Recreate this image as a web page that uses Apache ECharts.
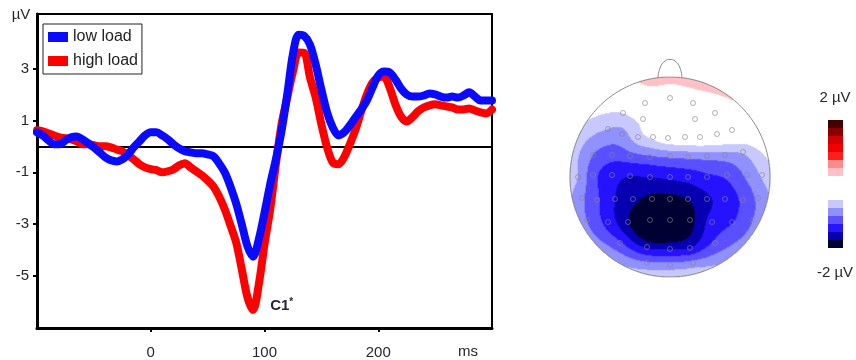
<!DOCTYPE html>
<html>
<head>
<meta charset="utf-8">
<script src="https://cdn.jsdelivr.net/npm/echarts@6/dist/echarts.min.js"></script>
<style>
html,body{margin:0;padding:0;background:#fff;}
#chart{width:856px;height:360px;}
</style>
</head>
<body>
<div id="chart"></div>
<script>
// ---- ERP waveforms (µV), one sample every 5 ms from -100 to 300 ms ----
const timesMs = [-100,-95,-90,-85,-80,-75,-70,-65,-60,-55,-50,-45,-40,-35,-30,-25,-20,-15,-10,-5,
  0,5,10,15,20,25,30,35,40,45,50,55,60,65,70,75,80,85,90,95,
  100,105,110,115,120,125,130,135,140,145,150,155,160,165,170,175,180,185,190,195,
  200,205,210,215,220,225,230,235,240,245,250,255,260,265,270,275,280,285,290,295,300];
const lowLoad = [0.54,0.42,0.23,0.08,0.08,0.23,0.35,0.38,0.27,0.12,
  -0.04,-0.23,-0.42,-0.54,-0.58,-0.5,-0.31,-0.04,0.19,0.42,
  0.54,0.54,0.42,0.27,0.08,-0.08,-0.19,-0.23,-0.27,-0.27,
  -0.31,-0.38,-0.65,-1.0,-1.54,-2.19,-3.0,-3.85,-4.25,-3.58,
  -2.56,-1.46,-0.5,0.6,2.0,3.56,4.3,4.25,3.92,3.15,
  2.19,1.31,0.73,0.42,0.54,0.81,1.12,1.42,1.77,2.27,
  2.73,2.88,2.85,2.58,2.23,2.0,1.92,1.92,1.96,2.04,
  2.0,1.92,1.88,1.92,1.88,1.96,2.08,1.92,1.77,1.77,
  1.77];
const highLoad = [0.62,0.58,0.5,0.42,0.35,0.31,0.27,0.19,0.08,0.08,
  0.04,0.0,0.0,-0.04,-0.12,-0.19,-0.35,-0.5,-0.69,-0.81,
  -0.88,-0.92,-1.0,-0.96,-0.88,-0.73,-0.65,-0.81,-0.96,-1.12,
  -1.31,-1.54,-1.92,-2.42,-3.04,-3.69,-4.73,-5.81,-6.3,-5.31,
  -3.77,-2.42,-0.69,0.85,1.88,2.88,3.62,3.6,2.65,1.88,
  0.85,-0.04,-0.62,-0.69,-0.42,0.08,0.65,1.35,2.0,2.46,
  2.65,2.69,2.27,1.62,1.15,0.96,1.12,1.35,1.5,1.58,
  1.62,1.58,1.54,1.5,1.42,1.42,1.46,1.38,1.31,1.27,
  1.42];
const xTickValues = [0, 100, 200];
const yTickValues = [-5, -3, -1, 1, 3];

// ---- Scalp map: electrode sites (head radius 1, nose up) and amplitudes (µV) ----
const elecX = [-0.25,0,0.23,
  -0.47,-0.27,0.25,0.45,
  -0.62,-0.48,-0.32,-0.17,-0.02,0.15,0.30,0.47,0.62,
  -0.77,-0.58,-0.40,-0.20,0,0.18,0.37,0.55,0.73,
  -0.92,-0.77,-0.58,-0.40,-0.20,0,0.18,0.37,0.57,0.77,0.92,
  -0.88,-0.73,-0.55,-0.37,-0.18,0,0.18,0.37,0.55,0.73,0.88,
  -0.83,-0.62,-0.42,-0.20,0,0.20,0.42,0.62,0.83,
  -0.50,-0.23,0,0.20,0.45,
  -0.23,0,0.23];
const elecY = [0.74,0.79,0.74,
  0.64,0.58,0.58,0.64,
  0.48,0.43,0.40,0.40,0.39,0.40,0.40,0.43,0.47,
  0.22,0.22,0.21,0.20,0.21,0.20,0.21,0.22,0.25,
  0,0.02,0.02,0.01,0,0,0,0,0.02,0.02,0.02,
  -0.21,-0.23,-0.22,-0.22,-0.22,-0.22,-0.22,-0.22,-0.22,-0.23,-0.21,
  -0.43,-0.45,-0.45,-0.43,-0.43,-0.43,-0.45,-0.45,-0.43,
  -0.66,-0.70,-0.72,-0.71,-0.66,
  -0.86,-0.88,-0.86];
const elecV = [0.02,0.08,0.12,
  -0.5,-0.4,0.0,0.05,
  -0.75,-0.85,-0.6,-0.45,-0.3,-0.25,-0.2,-0.15,-0.1,
  -1.0,-1.15,-1.1,-1.05,-0.95,-0.95,-0.9,-0.85,-0.72,
  -0.75,-1.15,-1.4,-1.5,-1.5,-1.45,-1.4,-1.3,-1.2,-0.95,-0.72,
  -0.95,-1.2,-1.5,-1.65,-1.85,-1.85,-1.75,-1.55,-1.4,-1.2,-0.95,
  -1.0,-1.35,-1.72,-2.2,-2.2,-1.85,-1.4,-1.27,-1.0,
  -1.2,-1.55,-1.5,-1.5,-1.2,
  -0.95,-0.9,-0.9];

// colour scale: 16 steps of 0.25 µV from +2 (top) to -2 (bottom)
const levelTops = [Infinity,1.75,1.5,1.25,1.0,0.75,0.5,0.25,0,-0.25,-0.5,-0.75,-1.0,-1.25,-1.5,-1.75];
const levelColors = ['#420000','#8a0000','#d00000','#f20000','#ff1e1e','#ff8a8a','#ffc0c6',
  '#ffffff','#ffffff','#ffffff',
  '#c8c8ff','#9090ff','#5e50ff','#2a14ff','#0800b0','#000035'];

const FONT = '"Liberation Sans", Arial, sans-serif';
const TXT = '#262630';

// ---- biharmonic spline (Green's function r^2 (ln r - 1)) through the electrode values ----
function green(r) { return r > 1e-12 ? r * r * (Math.log(r) - 1) : 0; }
function solve(A, b) {
  const n = b.length;
  for (let c = 0; c < n; c++) {
    let p = c;
    for (let r = c + 1; r < n; r++) if (Math.abs(A[r][c]) > Math.abs(A[p][c])) p = r;
    [A[c], A[p]] = [A[p], A[c]]; [b[c], b[p]] = [b[p], b[c]];
    for (let r = c + 1; r < n; r++) {
      const f = A[r][c] / A[c][c];
      for (let k = c; k < n; k++) A[r][k] -= f * A[c][k];
      b[r] -= f * b[c];
    }
  }
  const x = new Array(n).fill(0);
  for (let r = n - 1; r >= 0; r--) {
    let s = b[r];
    for (let k = r + 1; k < n; k++) s -= A[r][k] * x[k];
    x[r] = s / A[r][r];
  }
  return x;
}
const nE = elecX.length;
const G = [];
for (let i = 0; i < nE; i++) {
  G.push([]);
  for (let j = 0; j < nE; j++) G[i].push(green(Math.hypot(elecX[i] - elecX[j], elecY[i] - elecY[j])));
}
const weights = solve(G, elecV.slice());

const N = 200;
const cats = Array.from({length: N}, (_, i) => i);
const cells = [];
for (let i = 0; i < N; i++) {
  const hx = -1 + (i + 0.5) * 2 / N;
  for (let j = 0; j < N; j++) {
    const hy = -1 + (j + 0.5) * 2 / N;
    if (hx * hx + hy * hy > 1) continue;
    let v = 0;
    for (let k = 0; k < nE; k++) v += weights[k] * green(Math.hypot(hx - elecX[k], hy - elecY[k]));
    cells.push([i, j, +v.toFixed(3)]);
  }
}

const pieces = levelColors.map((c, k) => {
  const p = {color: c};
  if (levelTops[k] !== Infinity) p.lt = levelTops[k];
  if (k < levelTops.length - 1) p.gte = levelTops[k + 1];
  return p;
});

// head outline and nose (head radius = 1)
const headOutline = [];
for (let a = 0; a <= 360; a += 2) {
  const t = a * Math.PI / 180;
  headOutline.push([Math.cos(t), Math.sin(t)]);
}
const noseOutline = [[-0.12,0.99],[-0.1,1.09],[-0.05,1.16],[0,1.175],[0.05,1.16],[0.1,1.09],[0.12,0.99]];

const erpLow = timesMs.map((t, i) => [t, lowLoad[i]]);
const erpHigh = timesMs.map((t, i) => [t, highLoad[i]]);

const chart = echarts.init(document.getElementById('chart'));
chart.setOption({
  animation: false,
  backgroundColor: '#fff',
  textStyle: {fontFamily: FONT},
  grid: [
    {left: 37, top: 14, width: 455, height: 315, show: true, borderColor: '#000', borderWidth: 2, backgroundColor: 'transparent'},
    {left: 570, top: 77, width: 200, height: 200},
    {left: 570, top: 77, width: 200, height: 200}
  ],
  xAxis: [
    {gridIndex: 0, type: 'value', min: -100, max: 300,
      axisLine: {onZero: false, lineStyle: {color: '#000', width: 3}},
      axisTick: {customValues: xTickValues, length: 4, lineStyle: {color: '#000', width: 2}},
      axisLabel: {customValues: xTickValues, margin: 17, fontSize: 15, color: TXT, fontFamily: FONT},
      splitLine: {show: false}},
    {gridIndex: 1, type: 'category', data: cats, show: false},
    {gridIndex: 2, type: 'value', min: -1, max: 1, show: false}
  ],
  yAxis: [
    {gridIndex: 0, type: 'value', min: -7, max: 5.1,
      axisLine: {show: true, onZero: false, lineStyle: {color: '#000', width: 3}},
      axisTick: {show: true, customValues: yTickValues, length: 4, lineStyle: {color: '#000', width: 2}},
      axisLabel: {customValues: yTickValues, margin: 8, fontSize: 15, color: TXT, fontFamily: FONT},
      splitLine: {show: false}},
    {gridIndex: 1, type: 'category', data: cats, show: false},
    {gridIndex: 2, type: 'value', min: -1, max: 1, show: false}
  ],
  legend: {
    data: ['low load', 'high load'],
    orient: 'vertical', left: 43, top: 24,
    icon: 'rect', itemWidth: 20, itemHeight: 10, itemGap: 8,
    padding: [5, 4, 5, 5],
    borderColor: '#222', borderWidth: 1, backgroundColor: '#fff',
    textStyle: {fontSize: 16, color: '#222', fontFamily: FONT},
    selectedMode: false
  },
  visualMap: {
    type: 'piecewise', seriesIndex: 2, dimension: 2,
    pieces: pieces,
    orient: 'vertical', left: 828, top: 120,
    itemWidth: 15, itemHeight: 8, itemGap: 0, itemSymbol: 'rect',
    showLabel: false, selectedMode: false, hoverLink: false, padding: 0
  },
  series: [
    {name: 'high load', type: 'line', xAxisIndex: 0, yAxisIndex: 0, data: erpHigh,
      showSymbol: false, smooth: 0.3, color: '#ff0000',
      lineStyle: {width: 8, color: '#ff0000', cap: 'round', join: 'round'},
      markLine: {silent: true, symbol: 'none', z: 1, label: {show: false},
        lineStyle: {color: '#000', width: 2, type: 'solid'}, data: [{yAxis: 0}]},
      markPoint: {silent: true, symbol: 'circle', symbolSize: 0,
        data: [{type: 'min'}],
        label: {show: true, position: 'right', distance: 17, offset: [0, -4],
          formatter: '{a|C1}{b|*}',
          rich: {a: {fontSize: 15, fontWeight: 'bold', color: TXT, fontFamily: FONT},
                 b: {fontSize: 10, fontWeight: 'bold', color: TXT, fontFamily: FONT, padding: [0, 0, 8, 0]}}}}
    },
    {name: 'low load', type: 'line', xAxisIndex: 0, yAxisIndex: 0, data: erpLow,
      showSymbol: false, smooth: 0.3, color: '#0a0aff',
      lineStyle: {width: 8, color: '#0a0aff', cap: 'round', join: 'round'}},
    {type: 'heatmap', xAxisIndex: 1, yAxisIndex: 1, data: cells,
      progressive: 0, silent: true, itemStyle: {borderWidth: 0}, emphasis: {disabled: true}},
    {type: 'line', xAxisIndex: 2, yAxisIndex: 2, data: headOutline, showSymbol: false, silent: true,
      z: 4, lineStyle: {color: '#8c8c8c', width: 1}},
    {type: 'line', xAxisIndex: 2, yAxisIndex: 2, data: noseOutline, showSymbol: false, silent: true,
      smooth: true, clip: false, z: 4, lineStyle: {color: '#8c8c8c', width: 1}},
    {type: 'scatter', xAxisIndex: 2, yAxisIndex: 2, data: elecX.map((x, i) => [x, elecY[i]]),
      symbolSize: 5, silent: true, z: 4,
      itemStyle: {color: 'rgba(0,0,0,0)', borderColor: '#858585', borderWidth: 0.8}}
  ],
  graphic: [
    {type: 'text', x: 21, y: 15, style: {text: 'µV', fontSize: 15, fill: TXT, fontFamily: FONT, align: 'center', verticalAlign: 'middle'}},
    {type: 'text', x: 468, y: 352, style: {text: 'ms', fontSize: 15, fill: TXT, fontFamily: FONT, align: 'center', verticalAlign: 'middle'}},
    {type: 'text', x: 835, y: 98, style: {text: '2 µV', fontSize: 15, fill: TXT, fontFamily: FONT, align: 'center', verticalAlign: 'middle'}},
    {type: 'text', x: 835, y: 273, style: {text: '-2 µV', fontSize: 15, fill: TXT, fontFamily: FONT, align: 'center', verticalAlign: 'middle'}}
  ]
});
</script>
</body>
</html>
